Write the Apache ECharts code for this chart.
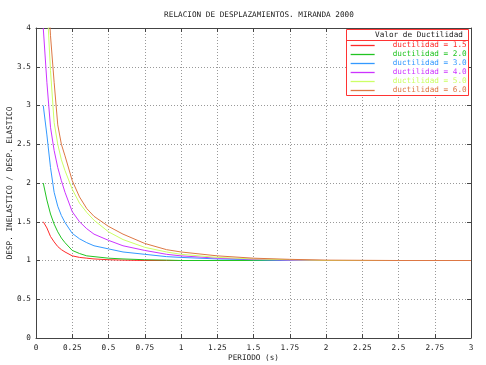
<!DOCTYPE html>
<html>
<head>
<meta charset="utf-8">
<script src="https://cdn.jsdelivr.net/npm/echarts@6/dist/echarts.min.js"></script>
<style>html,body{margin:0;padding:0;background:#fff;}#c{width:486px;height:365px;}</style>
</head>
<body>
<div id="c"></div>
<script>
var periods = [0.05,0.075,0.1,0.125,0.15,0.175,0.2,0.25,0.3,0.35,0.4,0.5,0.6,0.75,0.9,1.0,1.25,1.5,1.75,2.0,2.5,3.0];
var mu15 = [1.5,1.42,1.31,1.24,1.18,1.14,1.11,1.06,1.04,1.03,1.02,1.01,1.005,1.0,1.0,1.0,1.0,1.0,1.0,1.0,1.0,1.0];
var mu20 = [2.0,1.78,1.60,1.47,1.37,1.29,1.23,1.13,1.09,1.06,1.05,1.03,1.02,1.01,1.005,1.0,1.0,1.0,1.0,1.0,1.0,1.0];
var mu30 = [3.0,2.62,2.2,1.88,1.70,1.58,1.49,1.35,1.28,1.23,1.19,1.15,1.11,1.08,1.05,1.04,1.02,1.01,1.0,1.0,1.0,1.0];
var mu40 = [4.0,3.3,2.72,2.42,2.2,2.03,1.88,1.63,1.5,1.41,1.34,1.26,1.19,1.13,1.08,1.06,1.03,1.015,1.005,1.0,1.0,1.0];
var mu50 = [5.0,4.35,3.45,2.78,2.5,2.3,2.16,1.92,1.74,1.62,1.52,1.37,1.27,1.17,1.11,1.08,1.04,1.02,1.01,1.0,1.0,1.0];
var mu60 = [6.0,4.7,3.9,3.3,2.75,2.5,2.35,2.03,1.82,1.67,1.57,1.44,1.34,1.22,1.14,1.11,1.06,1.03,1.015,1.005,1.0,1.0];
var seriesNames = ['ductilidad = 1.5','ductilidad = 2.0','ductilidad = 3.0','ductilidad = 4.0','ductilidad = 5.0','ductilidad = 6.0'];
var seriesValues = [mu15, mu20, mu30, mu40, mu50, mu60];
var colors = ['#ff2a2a','#22c422','#3399ff','#cc33ff','#ccff66','#dd7744'];
var xTicks = {min:0, max:3, interval:0.25};
var yTicks = {min:0, max:4, interval:0.5};
var titleText = 'RELACION DE DESPLAZAMIENTOS. MIRANDA 2000';
var xName = 'PERIODO (s)';
var yName = 'DESP. INELASTICO / DESP. ELASTICO';
var legendTitle = 'Valor de Ductilidad';

var FONT = 'DejaVu Sans Mono';
var FS = 7.7;
var chart = echarts.init(document.getElementById('c'), null, {renderer:'canvas'});
var series = seriesNames.map(function(n, i){
  return {
    name: n, type: 'line', xAxisIndex: 0, yAxisIndex: 0,
    data: periods.map(function(t, j){ return [t, seriesValues[i][j]]; }),
    symbol: 'none', smooth: false, clip: true,
    lineStyle: {color: colors[i], width: 1},
    itemStyle: {color: colors[i]},
    animation: false
  };
});
var axisCommon = {
  axisLine: {show: true, onZero: false, lineStyle: {color: '#444', width: 1}},
  axisTick: {show: true, inside: true, length: 4, lineStyle: {color: '#444'}},
};
chart.setOption({
  animation: false,
  backgroundColor: '#fff',
  title: {text: titleText, left: 254, textAlign: 'center', top: 6,
    textStyle: {fontFamily: FONT, fontSize: FS, fontWeight: 'normal', color: '#222'}},
  grid: {left: 36, right: 15, top: 28, bottom: 27, containLabel: false, outerBoundsMode: 'none'},
  xAxis: [
    Object.assign({type: 'value', min: xTicks.min, max: xTicks.max, interval: xTicks.interval, position: 'bottom',
      name: xName, nameLocation: 'middle', nameGap: 16, nameMoveOverlap: false,
      nameTextStyle: {fontFamily: FONT, fontSize: FS, color: '#222'},
      axisLabel: {fontFamily: FONT, fontSize: FS, color: '#222', margin: 6},
      splitLine: {show: true, lineStyle: {color: '#999', type: [1, 2], width: 1}}}, axisCommon),
    Object.assign({type: 'value', min: xTicks.min, max: xTicks.max, interval: xTicks.interval, position: 'top',
      axisLabel: {show: false}, splitLine: {show: false}}, axisCommon)
  ],
  yAxis: [
    Object.assign({type: 'value', min: yTicks.min, max: yTicks.max, interval: yTicks.interval, position: 'left',
      name: yName, nameLocation: 'middle', nameGap: 22, nameRotate: 90, nameMoveOverlap: false,
      nameTextStyle: {fontFamily: FONT, fontSize: FS, color: '#222'},
      axisLabel: {fontFamily: FONT, fontSize: FS, color: '#222', margin: 5},
      splitLine: {show: true, lineStyle: {color: '#999', type: [1, 2], width: 1}}}, axisCommon),
    Object.assign({type: 'value', min: yTicks.min, max: yTicks.max, interval: yTicks.interval, position: 'right',
      axisLabel: {show: false}, splitLine: {show: false}}, axisCommon)
  ],
  graphic: [
    {type: 'rect', shape: {x: 346.5, y: 29.5, width: 122, height: 66}, z: 50,
      style: {fill: '#fff', stroke: '#ff3333', lineWidth: 1}},
    {type: 'line', shape: {x1: 346.5, y1: 40.5, x2: 468.5, y2: 40.5}, z: 51,
      style: {stroke: '#ff3333', lineWidth: 1}},
    {type: 'text', x: 463, y: 35, z: 52,
      style: {text: legendTitle, font: FS + 'px "' + FONT + '"', fill: '#222', textAlign: 'right', textVerticalAlign: 'middle'}}
  ],
  legend: {
    show: true, orient: 'vertical', left: 350, top: 41, z: 60,
    itemWidth: 24, itemHeight: 9, itemGap: 0, padding: 0,
    itemStyle: {opacity: 0},
    lineStyle: {width: 1.3, opacity: 1},
    data: seriesNames.map(function(n, i){
      return {name: n, lineStyle: {color: colors[i], width: 1.3}, textStyle: {color: colors[i]}};
    }),
    formatter: function(n){ return n; },
    textStyle: {fontFamily: FONT, fontSize: FS, padding: [0, 0, 0, 13], lineHeight: 9}
  },
  series: series
});
</script>
</body>
</html>
